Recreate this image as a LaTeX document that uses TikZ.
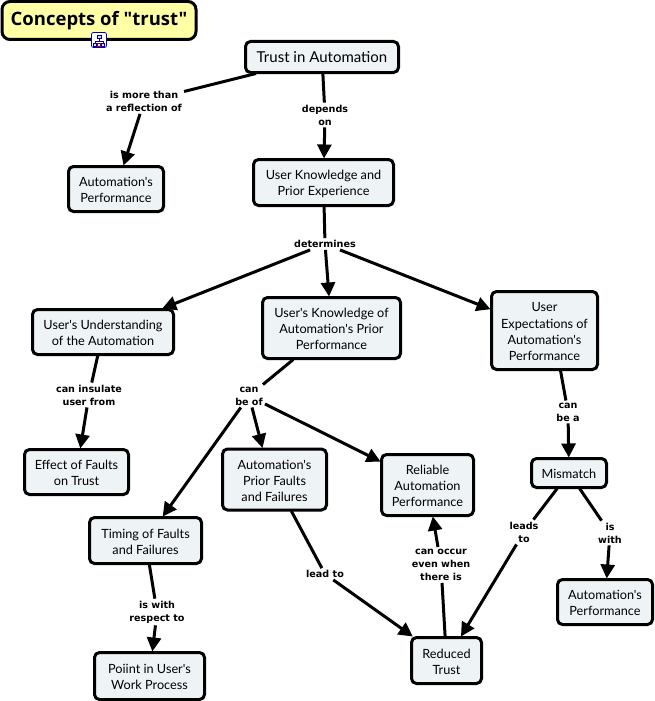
\documentclass[tikz,border=0pt]{standalone}
\usepackage{fontspec}
\newfontfamily\conceptfont{Lato}
\newfontfamily\labfont{DejaVu Sans}
\newfontfamily\titlefont{Open Sans}
\usetikzlibrary{arrows.meta}
\definecolor{boxfill}{HTML}{EEF3F6}
\definecolor{titlefill}{HTML}{FFFFA6}
\tikzset{
  concept/.style={draw=black,line width=3pt,rounded corners=5pt,fill=boxfill,align=center,font=\conceptfont\fontsize{12.7}{16.2}\selectfont,inner sep=0pt,outer sep=1pt},
  linklab/.style={font=\labfont\bfseries\fontsize{9.6}{13}\selectfont,align=center,inner sep=2pt,text=black},
  conn/.style={line width=3pt,black},
  arrowconn/.style={conn,-{Triangle[length=14pt,width=14pt]}},
}
\newcommand{\cbox}[6]{\node[concept,minimum width=#3pt,minimum height=#4pt] (#1) at (#5,#6) {\rule{0pt}{11.5pt}#2};}
\begin{document}
\begin{tikzpicture}[x=1pt,y=-1pt]
\useasboundingbox (0,0) rectangle (655,701);
\node[draw=black,line width=3pt,rounded corners=8pt,fill=titlefill,minimum width=194pt,minimum height=38pt,inner sep=0pt,font=\titlefont\bfseries\fontsize{18.5}{22}\selectfont] (title) at (99,20.5) {Concepts of "trust"};
\node[draw=blue!70!black,fill=white,line width=0.8pt,rounded corners=2pt,minimum width=15pt,minimum height=15pt,inner sep=0pt] (icon) at (99,40) {};
\draw[blue!60!black,line width=0.7pt,fill=blue!15] (97,35) rectangle (101,38);
\draw[blue!60!black,line width=0.7pt] (99,38) -- (99,41) (95,43) -- (95,41) -- (103,41) -- (103,43);
\draw[blue!60!black,line width=0.7pt,fill=blue!15] (93.5,43) rectangle (96.5,46) (101.5,43) rectangle (104.5,46);
\draw[red!60!black,line width=0.7pt,fill=red!15] (97.5,43) rectangle (100.5,46);

\node[concept,minimum width=153pt,minimum height=31pt,font=\conceptfont\fontsize{15}{18}\selectfont] (trust) at (322,57) {Trust in Automation};
\cbox{perfl}{Automation's\\Performance}{95}{45}{116}{189}
\cbox{know}{User Knowledge and\\Prior Experience}{140}{46}{323.5}{182.5}
\cbox{under}{User's Understanding\\of the Automation}{141}{45}{103}{332}
\cbox{prior}{User's Knowledge of\\Automation's Prior\\Performance}{138}{61}{331.5}{328}
\cbox{expect}{User\\Expectations of\\Automation's\\Performance}{106}{78}{544.5}{330.5}
\cbox{effect}{Effect of Faults\\on Trust}{104}{45}{76.5}{472}
\cbox{faults}{Automation's\\Prior Faults\\and Failures}{104}{61}{274.5}{479.5}
\cbox{reliable}{Reliable\\Automation\\Performance}{92}{61}{427.5}{485}
\cbox{timing}{Timing of Faults\\and Failures}{112}{46}{145.5}{540.5}
\cbox{mismatch}{Mismatch}{75}{29}{569}{473}
\cbox{perfr}{Automation's\\Performance}{95}{45}{605}{602}
\cbox{point}{Poiint in User's\\Work Process}{110}{47}{149.5}{676}
\cbox{reduced}{Reduced\\Trust}{70}{46}{446.5}{660.5}

\node[linklab] (l1) at (144,101.5) {is more than\\a reflection of};
\node[linklab] (l2) at (325,115) {depends\\on};
\node[linklab] (l3) at (325,244) {determines};
\node[linklab] (l4) at (89,395) {can insulate\\user from};
\node[linklab] (l5) at (249,396) {can\\be of};
\node[linklab] (l6) at (568,412) {can\\be a};
\node[linklab] (l7) at (524,532) {leads\\to};
\node[linklab] (l8) at (610,533) {is\\with};
\node[linklab] (l9) at (157,612) {is with\\respect to};
\node[linklab] (l10) at (325,574) {lead to};
\node[linklab] (l11) at (441,565) {can occur\\even when\\there is};

\draw[conn] (trust) -- (l1);
\draw[arrowconn] (l1) -- (perfl);
\draw[conn] (trust) -- (l2);
\draw[arrowconn] (l2) -- (know);
\draw[conn] (know) -- (l3);
\draw[arrowconn] (l3) -- (under);
\draw[arrowconn] (l3) -- (prior);
\draw[arrowconn] (l3) -- (expect);
\draw[conn] (under) -- (l4);
\draw[arrowconn] (l4) -- (effect);
\draw[conn] (prior) -- (l5);
\draw[arrowconn] (l5) -- (timing);
\draw[arrowconn] (l5) -- ([xshift=-12pt]faults.north);
\draw[arrowconn] (l5) -- (reliable);
\draw[conn] ([xshift=16pt]expect.south) -- (l6);
\draw[arrowconn] (l6) -- (mismatch);
\draw[conn] (mismatch) -- (l7);
\draw[arrowconn] (l7) -- (reduced);
\draw[conn] (mismatch) -- (l8);
\draw[arrowconn] (l8) -- (perfr);
\draw[conn] (timing) -- (l9);
\draw[arrowconn] (l9) -- (point);
\draw[conn] (faults) -- (l10);
\draw[arrowconn] (l10) -- (reduced);
\draw[conn] (reduced) -- (l11);
\draw[arrowconn] (l11) -- (reliable);
\end{tikzpicture}
\end{document}
